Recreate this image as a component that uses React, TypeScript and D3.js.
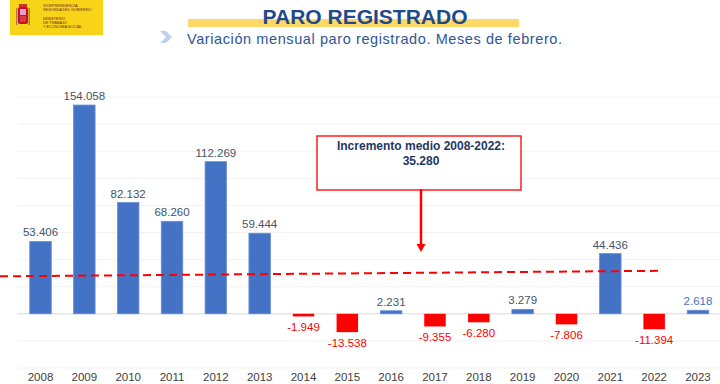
import React from "react";
import * as d3 from "d3";

const years = ["2008","2009","2010","2011","2012","2013","2014","2015","2016","2017","2018","2019","2020","2021","2022","2023"];
const values = [53406,154058,82132,68260,112269,59444,-1949,-13538,2231,-9355,-6280,3279,-7806,44436,-11394,2618];
const gridTicks = [-40000,-20000,0,20000,40000,60000,80000,100000,120000,140000,160000];
const trendPoints = [{ year: "2008", value: 27900 }, { year: "2022", value: 31700 }];
const title = "PARO REGISTRADO";
const subtitle = "Variación mensual paro registrado. Meses de febrero.";
const noteLines = ["Incremento medio 2008-2022:", "35.280"];
const logoLines = ["VICEPRESIDENCIA", "SEGUNDA DEL GOBIERNO", "MINISTERIO", "DE TRABAJO", "Y ECONOMÍA SOCIAL"];

const W = 720, H = 384;
const locale = d3.formatLocale({ decimal: ",", thousands: ".", grouping: [3], currency: ["", "€"], minus: "-" });
const fmt = locale.format(",d");

export default function App() {
  const x = d3.scaleBand<string>().domain(years).range([18.6, 719.9]).padding(0);
  const y = d3.scaleLinear().domain([-40000, 160000]).range([368, 97]);
  const bw = 21.5;
  const cx = (yr: string) => (x(yr) as number) + x.bandwidth() / 2;
  const font = "'Liberation Sans', Arial, sans-serif";

  const tx0 = cx(trendPoints[0].year), tx1 = cx(trendPoints[1].year);
  const ty0 = y(trendPoints[0].value), ty1 = y(trendPoints[1].value);
  const slope = (ty1 - ty0) / (tx1 - tx0);
  const trendLeftY = ty0 - slope * tx0;
  const trendRightX = tx1 + 4;
  const trendRightY = ty0 + slope * (trendRightX - tx0);

  const boxX = 317, boxY = 136, boxW = 204, boxH = 54;
  const arrowX = 421, arrowEnd = 252;

  return (
    <svg width={W} height={H} style={{ position: "absolute", left: 0, top: 0, background: "#fff" }} fontFamily={font}>
      {/* logo */}
      <rect x={10} y={0} width={93} height={35} fill="#F7D417" />
      <g>
        <rect x={18} y={7} width={10} height={17} fill="#C8102E" rx={2} />
        <rect x={20} y={9} width={6} height={6} fill="#E6A0C8" />
        <rect x={20} y={16} width={6} height={6} fill="#D04040" />
        <rect x={16} y={8} width={1.5} height={17} fill="#B08040" />
        <rect x={28.5} y={8} width={1.5} height={17} fill="#B08040" />
        <rect x={19} y={4} width={8} height={3} fill="#D03030" />
      </g>
      {logoLines.map((t, i) => (
        <text key={t} x={43} y={[7, 11, 20, 24, 28][i]} fontSize={3.8} fill="#6B2A2A">{t}</text>
      ))}

      {/* title */}
      <rect x={188} y={19} width={331} height={8} fill="#FFD966" />
      <text x={365} y={24} textAnchor="middle" fontSize={21} fontWeight="bold" fill="#1F4A8A">{title}</text>
      <path d="M160,31 L166,31 L172,37 L166,43 L160,43 L166,37 Z" fill="#BDD0EC" />
      <text x={187} y={44} fontSize={14.5} fill="#2E5597" textLength={375} lengthAdjust="spacing">{subtitle}</text>

      {/* gridlines */}
      {gridTicks.map((t) => (
        <line key={t} x1={18} x2={W} y1={y(t)} y2={y(t)} stroke={t === 0 ? "#D9D9D9" : "#F2F2F2"} strokeWidth={1} />
      ))}

      {/* bars */}
      {years.map((yr, i) => {
        const v = values[i];
        const top = y(Math.max(0, v));
        const h = Math.abs(y(v) - y(0));
        return (
          <rect key={yr} x={cx(yr) - bw / 2} y={top} width={bw} height={Math.max(h, 1)}
            fill={v >= 0 ? "#4472C4" : "#FF0000"}
            stroke={v >= 0 ? "#6A8FD4" : "none"} strokeWidth={0.8} />
        );
      })}

      {/* value labels */}
      {years.map((yr, i) => {
        const v = values[i];
        const pos = v >= 0;
        const ly = pos ? y(v) - 5 : y(v) + 14.5;
        const col = pos ? (yr === "2023" ? "#4472C4" : "#44546A") : "#FF0000";
        return (
          <text key={yr} x={cx(yr)} y={ly} textAnchor="middle" fontSize={11.5} fill={col}>{fmt(v)}</text>
        );
      })}

      {/* year labels */}
      {years.map((yr) => (
        <text key={yr} x={cx(yr)} y={381} textAnchor="middle" fontSize={11.5} fill="#404040">{yr}</text>
      ))}

      {/* trend line */}
      <line x1={0} y1={trendLeftY} x2={trendRightX} y2={trendRightY} stroke="#FF0000" strokeWidth={2} strokeDasharray="8,5" />

      {/* annotation */}
      <rect x={boxX} y={boxY} width={boxW} height={boxH} fill="#fff" stroke="#FF2020" strokeWidth={1.5} />
      {noteLines.map((t, i) => (
        <text key={t} x={boxX + boxW / 2 + 2} y={150 + i * 15} textAnchor="middle" fontSize={12} fontWeight="bold" fill="#1F3864">{t}</text>
      ))}
      <line x1={arrowX} y1={boxY + boxH - 1} x2={arrowX} y2={arrowEnd - 7} stroke="#FF0000" strokeWidth={2.5} />
      <path d={`M${arrowX - 4.5},${arrowEnd - 8} L${arrowX + 4.5},${arrowEnd - 8} L${arrowX},${arrowEnd} Z`} fill="#FF0000" />
    </svg>
  );
}
